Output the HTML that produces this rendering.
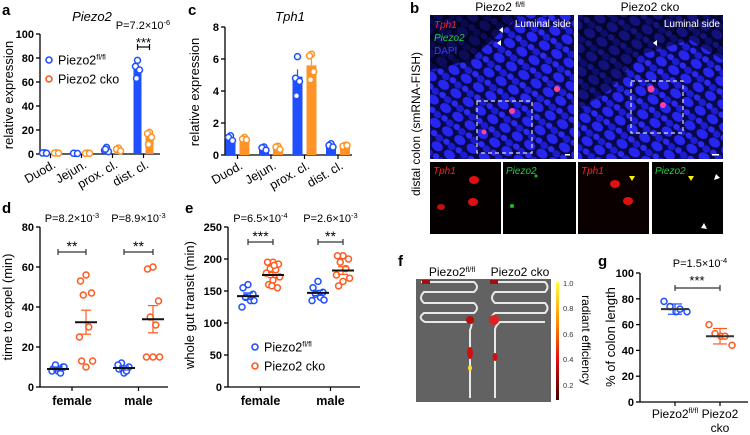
<!DOCTYPE html>
<html><head><meta charset="utf-8"><style>
body{margin:0;background:#fff}
svg{display:block;font-family:"Liberation Sans",Arial,sans-serif}
</style></head><body>
<svg id="fig" width="750" height="435" viewBox="0 0 750 435" xmlns="http://www.w3.org/2000/svg">
<defs>
<pattern id="cells" width="18" height="15" patternUnits="userSpaceOnUse" patternTransform="rotate(-55)">
<rect width="18" height="15" fill="#08084a"/>
<ellipse cx="5" cy="7" rx="4.5" ry="6" fill="#2626f0"/>
<ellipse cx="13" cy="4" rx="3.5" ry="4" fill="#1c1cd0"/>
<ellipse cx="14" cy="12" rx="3" ry="3.5" fill="#2a2af5"/>
</pattern>
<linearGradient id="cbar" x1="0" y1="0" x2="0" y2="1">
<stop offset="0" stop-color="#ffff40"/><stop offset="0.35" stop-color="#ff8a00"/><stop offset="0.65" stop-color="#e01010"/><stop offset="1" stop-color="#400000"/>
</linearGradient>
</defs>

<g font-weight="bold" font-size="15" fill="#000">
<text x="2" y="15">a</text>
<text x="188" y="15">c</text>
<text x="410" y="13">b</text>
<text x="2" y="213">d</text>
<text x="185" y="213">e</text>
<text x="398" y="266">f</text>
<text x="598" y="266">g</text>
</g>

<text x="92" y="21" font-size="13" font-style="italic" text-anchor="middle">Piezo2</text>
<text x="13" y="95" font-size="13" text-anchor="middle" transform="rotate(-90 13 95)">relative expression</text>
<text x="143" y="29" font-size="11" text-anchor="middle">P=7.2×10<tspan dy="-4" font-size="7.5">-6</tspan></text>
<g>
<circle cx="49" cy="60" r="3" fill="#fff" stroke="#1f4fff" stroke-width="1.6"/>
<text x="58" y="64.5" font-size="12.5">Piezo2<tspan dy="-5" font-size="7.5">fl/fl</tspan></text>
<circle cx="49" cy="79" r="3" fill="#fff" stroke="#ff5a1f" stroke-width="1.6"/>
<text x="58" y="83.5" font-size="12.5">Piezo2 cko</text>
</g>

<text x="290" y="21" font-size="13" font-style="italic" text-anchor="middle">Tph1</text>
<text x="199" y="92" font-size="13" text-anchor="middle" transform="rotate(-90 199 92)">relative expression</text>

<g>
<text x="500" y="11" font-size="12" text-anchor="middle">Piezo2 <tspan dy="-4" font-size="7.5">fl/fl</tspan></text>
<text x="650" y="11" font-size="12" text-anchor="middle">Piezo2 cko</text>
<text x="420" y="124" font-size="12" text-anchor="middle" transform="rotate(-90 420 124)">distal colon (smRNA-FISH)</text>
<rect x="430" y="15" width="144" height="144" fill="url(#cells)"/>
<rect x="578" y="15" width="145" height="144" fill="url(#cells)"/>
<path d="M430,15 H520 L470,60 L430,70 Z" fill="#02021a" opacity="0.7"/>
<path d="M578,15 H723 V60 L690,40 L640,55 L610,90 L578,110 Z" fill="#02021a" opacity="0.55"/>
<text x="571" y="27" font-size="10" fill="#fff" text-anchor="end">Luminal side</text>
<text x="720" y="27" font-size="10" fill="#fff" text-anchor="end">Luminal side</text>
<text x="434" y="28" font-size="10" fill="#ff2020" font-style="italic">Tph1</text>
<text x="434" y="41" font-size="10" fill="#22cc44" font-style="italic">Piezo2</text>
<text x="434" y="54" font-size="10" fill="#3a3aff">DAPI</text>
<rect x="477" y="101" width="55" height="52" fill="none" stroke="#ddd" stroke-dasharray="4,3" stroke-width="1.2"/>
<rect x="631" y="81" width="52" height="52" fill="none" stroke="#ddd" stroke-dasharray="4,3" stroke-width="1.2"/>
<circle cx="512" cy="111" r="3" fill="#ff40a0"/><circle cx="557" cy="89" r="3" fill="#ff40a0"/><circle cx="484" cy="132" r="2.5" fill="#ff40a0"/><circle cx="651" cy="89" r="3.5" fill="#ff40a0"/><circle cx="663" cy="105" r="3" fill="#ff40a0"/>
<rect x="430" y="162" width="71" height="72" fill="#050000"/>
<rect x="503" y="162" width="73" height="72" fill="#000"/>
<rect x="578" y="162" width="71" height="72" fill="#0a0000"/>
<rect x="652" y="162" width="71" height="72" fill="#000"/>
<text x="433" y="174" font-size="10" fill="#ff2020" font-style="italic">Tph1</text>
<text x="506" y="174" font-size="10" fill="#22cc44" font-style="italic">Piezo2</text>
<text x="581" y="174" font-size="10" fill="#ff2020" font-style="italic">Tph1</text>
<text x="655" y="174" font-size="10" fill="#22cc44" font-style="italic">Piezo2</text>
<ellipse cx="474" cy="180" rx="5" ry="4" fill="#e01010"/><ellipse cx="473" cy="202" rx="5" ry="4" fill="#e01010"/><ellipse cx="441" cy="207" rx="4" ry="3" fill="#c01010"/>
<ellipse cx="615" cy="184" rx="5" ry="4" fill="#e01010"/><ellipse cx="628" cy="201" rx="5" ry="4" fill="#e01010"/>
<circle cx="512" cy="206" r="2" fill="#20c020"/><circle cx="536" cy="176" r="1.5" fill="#20c020"/>
<polygon points="688,176 694,176 691,181" fill="#ffee00"/><polygon points="629,176 635,176 632,181" fill="#ffee00"/>
<polygon points="716,174 720,178 714,180" fill="#fff"/><polygon points="704,223 707,229 701,228" fill="#fff"/>
<polygon points="499,30 503,27 503,33" fill="#fff"/><polygon points="497,43 501,40 501,46" fill="#fff"/><polygon points="653,43 657,40 657,46" fill="#fff"/>
<rect x="565" y="154" width="5" height="1.5" fill="#fff"/><rect x="712" y="154" width="7" height="1.5" fill="#fff"/>
</g>

<text x="12" y="307" font-size="13" text-anchor="middle" transform="rotate(-90 12 307)">time to expel (min)</text>
<text x="194" y="305" font-size="13" text-anchor="middle" transform="rotate(-90 194 305)">whole gut transit (min)</text>
<g>
<circle cx="255" cy="347" r="3" fill="#fff" stroke="#1f4fff" stroke-width="1.6"/>
<text x="264" y="351.5" font-size="12.5">Piezo2<tspan dy="-5" font-size="7.5">fl/fl</tspan></text>
<circle cx="255" cy="366" r="3" fill="#fff" stroke="#ff5a1f" stroke-width="1.6"/>
<text x="264" y="370.5" font-size="12.5">Piezo2 cko</text>
</g>

<g>
<text x="452" y="276" font-size="12" text-anchor="middle">Piezo2<tspan dy="-4" font-size="7.5">fl/fl</tspan></text>
<text x="520" y="276" font-size="12" text-anchor="middle">Piezo2 cko</text>
<rect x="416" y="279" width="135" height="123" fill="#626262"/>
<g fill="none" stroke="#e8e8e8" stroke-width="2">
<path d="M421,282 H474 Q480,287 474,292 H424 Q418,298 424,303 H474 Q480,308 474,313 H424 Q417,318 425,322 H470 Q473,323 470,330 V398"/>
<path d="M491,282 H545 Q550,287 545,292 H495 Q489,298 495,303 H545 Q550,308 545,313 H495 Q488,318 496,322 H545 M500,322 Q495,326 495,330 V398"/>
</g>
<circle cx="470" cy="320" r="4" fill="#b01010"/><circle cx="494" cy="320" r="5" fill="#e02020"/><ellipse cx="470" cy="353" rx="3" ry="6" fill="#d01010"/><ellipse cx="470" cy="368" rx="2" ry="3" fill="#ffdd30"/><ellipse cx="495" cy="357" rx="2.5" ry="4" fill="#d01010"/>
<rect x="422" y="280" width="8" height="4" fill="#a01010"/><rect x="490" y="280" width="8" height="4" fill="#a01010"/>
<rect x="556" y="282" width="3" height="118" fill="url(#cbar)"/>
<g font-size="7.5" fill="#333">
<text x="563" y="286">1.0</text><text x="563" y="311">0.8</text><text x="563" y="337">0.6</text><text x="563" y="362">0.4</text><text x="563" y="388">0.2</text>
</g>
<text x="582" y="340" font-size="12" text-anchor="middle" transform="rotate(90 582 340)">radiant efficiency</text>
</g>

<text x="615" y="337" font-size="13" text-anchor="middle" transform="rotate(-90 615 337)">% of colon length</text>
<text x="700" y="267" font-size="11" text-anchor="middle">P=1.5×10<tspan dy="-4" font-size="7.5">-4</tspan></text>
<text x="675" y="418" font-size="12" text-anchor="middle">Piezo2<tspan dy="-5" font-size="7.5">fl/fl</tspan></text>
<text x="720" y="418" font-size="12" text-anchor="middle">Piezo2</text>
<text x="720" y="432" font-size="12" text-anchor="middle">cko</text>
<g id="dyn"></g>
</svg>
<script>
const aCats = ['Duod.','Jejun.','prox. cl.','dist. cl.'];
const aTicks = [0,20,40,60,80,100];
const aFl = [0.8,0.5,3.5,72];
const aCko = [0.8,0.6,3.8,15];
const aFlPts = [[1,0.8,0.6],[0.5,0.6,0.4],[5.5,3,2,4],[78,73,70,63]];
const aCkoPts = [[1,0.8,0.7],[0.8,0.5,0.6],[5,4,2.5],[18,17,14,8]];
const cTicks = [0,2,4,6,8];
const cFl = [1.05,0.4,4.9,0.6];
const cCko = [1.0,0.45,5.6,0.55];
const cFlErr = [0.1,0.06,0.45,0.06];
const cCkoErr = [0.07,0.07,0.4,0.04];
const cFlPts = [[1.2,1.1,0.9],[0.5,0.45,0.3],[6.15,4.8,4.6,3.7],[0.7,0.6,0.5]];
const cCkoPts = [[1.1,1.0,0.95],[0.55,0.5,0.35],[6.3,6.2,5.2,4.7],[0.6,0.55,0.6]];
const dGroups = ['female','male'];
const dTicks = [0,20,40,60,80];
const dFlF = [8,9,10,11,7,8,10];
const dCkoF = [56,53,47,46,30,25,13,10,13];
const dFlM = [7,9,10,12,8,11];
const dCkoM = [60,59,43,35,31,15,15,15];
const dMean = [[9,32.4],[9.5,33.9]];
const dSem = [[1,6],[1,6.8]];
const dP = ['8.2','8.9'];
const dPexp = ['-3','-3'];
const dStars = ['**','**'];
const eTicks = [0,50,100,150,200,250];
const eFlF = [160,155,145,140,135,125,135];
const eCkoF = [195,195,192,185,183,178,172,167,160,155,158,190];
const eFlM = [165,155,148,145,140,135,136];
const eCkoM = [205,205,200,195,185,175,170,165,158];
const eMean = [[142,175],[147,182]];
const eSem = [[5,4],[4,6]];
const eP = ['6.5','2.6'];
const ePexp = ['-4','-3'];
const eStars = ['***','**'];
const gTicks = [0,20,40,60,80,100];
const gFl = [78,74,70,72,70];
const gCko = [60,53,51,51,44];
const gMean = [72,51];
const gSd = [4,6];

const NS='http://www.w3.org/2000/svg';
const root=document.getElementById('dyn');
const BLUE='#1f4fff', ORANGE='#ff9326', RED='#ff5a1f';
function mk(tag, attrs){const e=document.createElementNS(NS,tag);for(const k in attrs)e.setAttribute(k,attrs[k]);root.appendChild(e);return e;}
function line(x1,y1,x2,y2,stroke,w,name){const e=mk('line',{x1,y1,x2,y2,stroke,'stroke-width':w});


return e;}
function txt(x,y,s,size,anchor,name,bold){const e=mk('text',{x,y,'font-size':size,'text-anchor':anchor});if(bold)e.setAttribute('font-weight','bold');e.textContent=s;


return e;}
function dot(x,y,col,name){const e=mk('circle',{cx:x,cy:y,r:3,fill:'#fff',stroke:col,'stroke-width':1.5});


return e;}
function yAxis(x,ticks,ys,yTop,yBot,name){line(x,yTop,x,yBot,'#000',1.3,name);ticks.forEach(t=>{line(x-4,ys(t),x,ys(t),'#000',1.3,'y-tick');txt(x-6,ys(t)+4,String(t),11,'end','y-tick-label',true);});}
function pText(x,y,m,ex,name){const e=txt(x,y,'P='+m+'×10',11,'middle',name,false);const s=document.createElementNS(NS,'tspan');s.setAttribute('dy','-4');s.setAttribute('font-size','7.5');s.textContent=ex;e.appendChild(s);}
function jit(i){return [0,-5,5,-2.5,2.5,-6,6,0,-4,4,-1,1][i%12];}

const ya=v=>154-v*1.2;
const xa=i=>50.5+i*31;
yAxis(40,aTicks,ya,34,154,'y-axis-a');
line(40,154,160,154,'#000',1.3,'x-axis-a');
aCats.forEach((c,i)=>{
  const r1=mk('rect',{x:xa(i)-10,y:ya(aFl[i]),width:8,height:154-ya(aFl[i]),fill:BLUE});
  
  
  const r2=mk('rect',{x:xa(i)+2,y:ya(aCko[i]),width:8,height:154-ya(aCko[i]),fill:ORANGE});
  
  
  aFlPts[i].forEach((v,j)=>dot(xa(i)-6+jit(j)*0.4,ya(v),BLUE,'point-a-flfl'));
  aCkoPts[i].forEach((v,j)=>dot(xa(i)+6+jit(j)*0.4,ya(v),ORANGE,'point-a-cko'));
  line(xa(i),154,xa(i),158,'#000',1.2,'x-tick-a');
  const t=txt(xa(i)+6,167,c,12.5,'end','x-tick-label-a',false);
  t.setAttribute('transform','rotate(-30 '+(xa(i)+6)+' 167)');
});
line(xa(3)-6,47,xa(3)+6,47,'#000',1.2,'sig-bar-a');
line(xa(3)-6,44,xa(3)-6,50,'#000',1.2,'sig-bar-a');
line(xa(3)+6,44,xa(3)+6,50,'#000',1.2,'sig-bar-a');
txt(xa(3),47,'***',13,'middle','sig-stars-a',false);

const yc=v=>155-v*16;
const xc=i=>237.5+i*33.5;
yAxis(225,cTicks,yc,27,155,'y-axis-c');
line(225,155,352,155,'#000',1.3,'x-axis-c');
aCats.forEach((c,i)=>{
  const r1=mk('rect',{x:xc(i)-12,y:yc(cFl[i]),width:10,height:155-yc(cFl[i]),fill:BLUE});
  
  
  const r2=mk('rect',{x:xc(i)+2,y:yc(cCko[i]),width:10,height:155-yc(cCko[i]),fill:ORANGE});
  
  
  line(xc(i)-7,yc(cFl[i]+cFlErr[i]),xc(i)-7,yc(cFl[i]),BLUE,1.2,'error-bar-c');
  line(xc(i)+7,yc(cCko[i]+cCkoErr[i]),xc(i)+7,yc(cCko[i]),ORANGE,1.2,'error-bar-c');
  cFlPts[i].forEach((v,j)=>dot(xc(i)-7+jit(j)*0.4,yc(v),BLUE,'point-c-flfl'));
  cCkoPts[i].forEach((v,j)=>dot(xc(i)+7+jit(j)*0.4,yc(v),ORANGE,'point-c-cko'));
  line(xc(i),155,xc(i),159,'#000',1.2,'x-tick-c');
  const t=txt(xc(i)+6,168,c,12.5,'end','x-tick-label-c',false);
  t.setAttribute('transform','rotate(-30 '+(xc(i)+6)+' 168)');
});

function scatter(cfg){
  const {ax,ax2,yTop,yBot,ys,ticks,centers,sets,means,errs,P,Pexp,stars,prefix,sigY}=cfg;
  yAxis(ax,ticks,ys,yTop,yBot,'y-axis-'+prefix);
  line(ax,yBot,ax2,yBot,'#000',1.3,'x-axis-'+prefix);
  dGroups.forEach((g,gi)=>{
    const xb=centers[gi][0], xo=centers[gi][1], mid=(xb+xo)/2;
    line(mid,yBot,mid,yBot+4,'#000',1.2,'x-tick-'+prefix);
    txt(mid,yBot+18,g,12.5,'middle','x-tick-label-'+prefix,true);
    sets[gi][0].forEach((v,j)=>dot(xb+jit(j),ys(v),BLUE,'point-'+prefix+'-flfl-'+g));
    sets[gi][1].forEach((v,j)=>dot(xo+jit(j)*1.1,ys(v),RED,'point-'+prefix+'-cko-'+g));
    [[xb,BLUE],[xo,RED]].forEach(([x,col],k)=>{
      const m=means[gi][k], s=errs[gi][k];
      line(x,ys(m-s),x,ys(m+s),col,1.2,'error-bar-'+prefix);
      line(x-5,ys(m-s),x+5,ys(m-s),col,1.2,'error-cap-'+prefix);
      line(x-5,ys(m+s),x+5,ys(m+s),col,1.2,'error-cap-'+prefix);
      line(x-11,ys(m),x+11,ys(m),'#111',2,'mean-line-'+prefix);
    });
    line(xb,sigY,xo,sigY,'#333',1.2,'sig-bar-'+prefix);
    line(xb,sigY-3,xb,sigY+3,'#333',1.2,'sig-bar-'+prefix);
    line(xo,sigY-3,xo,sigY+3,'#333',1.2,'sig-bar-'+prefix);
    txt(mid,sigY-1,stars[gi],14,'middle','sig-stars-'+prefix,false);
    pText(mid,222,P[gi],Pexp[gi],'p-value-'+prefix+'-'+g);
  });
}
scatter({ax:40,ax2:168,yTop:227,yBot:387,ys:v=>387-v*2,ticks:dTicks,
  centers:[[58,86],[124,153]],sets:[[dFlF,dCkoF],[dFlM,dCkoM]],means:dMean,errs:dSem,
  P:dP,Pexp:dPexp,stars:dStars,prefix:'d',sigY:252});
scatter({ax:228,ax2:360,yTop:227,yBot:387,ys:v=>387-v*0.64,ticks:eTicks,
  centers:[[248,273],[318,343]],sets:[[eFlF,eCkoF],[eFlM,eCkoM]],means:eMean,errs:eSem,
  P:eP,Pexp:ePexp,stars:eStars,prefix:'e',sigY:242});

const yg=v=>402-v*1.29;
yAxis(640,gTicks,yg,273,402,'y-axis-g');
line(640,402,748,402,'#000',1.3,'x-axis-g');
[[675,gFl,BLUE,'flfl'],[720,gCko,RED,'cko']].forEach(([x,pts,col,nm],k)=>{
  line(x,402,x,406,'#000',1.2,'x-tick-g');
  const offs=[-11,-5,1,5,12];
  pts.forEach((v,j)=>dot(x+offs[j%5],yg(v),col,'point-g-'+nm));
  line(x,yg(gMean[k]-gSd[k]),x,yg(gMean[k]+gSd[k]),col,1.2,'error-bar-g');
  line(x-7,yg(gMean[k]-gSd[k]),x+7,yg(gMean[k]-gSd[k]),col,1.2,'error-cap-g');
  line(x-7,yg(gMean[k]+gSd[k]),x+7,yg(gMean[k]+gSd[k]),col,1.2,'error-cap-g');
  line(x-14,yg(gMean[k]),x+14,yg(gMean[k]),'#333',2,'mean-line-g');
});
line(675,288,720,288,'#333',1.2,'sig-bar-g');
line(675,285,675,291,'#333',1.2,'sig-bar-g');
line(720,285,720,291,'#333',1.2,'sig-bar-g');
txt(697,285,'***',13,'middle','sig-stars-g',false);
</script>
</body></html>
